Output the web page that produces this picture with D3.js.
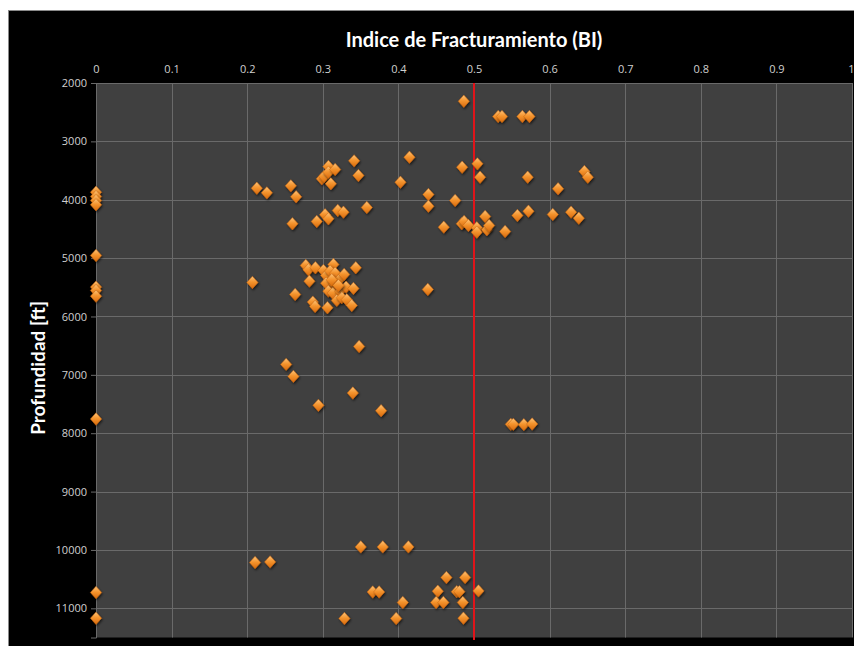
<!DOCTYPE html>
<html><head><meta charset="utf-8">
<script src="https://cdn.jsdelivr.net/npm/d3@7/dist/d3.min.js"></script>
<style>
html,body{margin:0;padding:0;background:#fff;}
svg{display:block;}
</style></head>
<body>
<svg id="c" width="854" height="646"></svg>
<script>
const title = "Indice de Fracturamiento (BI)";
const yTitle = "Profundidad [ft]";
const xTicks = [0,0.1,0.2,0.3,0.4,0.5,0.6,0.7,0.8,0.9,1];
const yTicks = [2000,3000,4000,5000,6000,7000,8000,9000,10000,11000];
const cutoff = 0.5;
const bi = [
 0,0,0,0,0,0,0,0,0,0,0,
 0.2127,0.226,0.2577,0.2647,0.2598,0.292,0.303,0.3074,0.2987,0.3017,0.3074,0.3074,0.3163,0.3106,0.3414,0.3471,0.3198,0.3273,0.3582,
 0.4865,0.532,0.537,0.564,0.5733,0.4146,0.4843,0.5045,0.508,0.571,0.4027,0.646,0.6505,0.6112,0.4397,0.4397,0.475,
 0.46,0.4838,0.4869,0.4926,0.5037,0.5037,0.5147,0.517,0.52,0.5411,0.5574,0.572,0.6042,0.6284,0.6386,
 0.2069,0.2634,0.2775,0.281,0.2902,0.2823,0.2868,0.2898,0.3008,0.3061,0.314,0.3044,0.3436,0.348,
 0.3097,0.3163,0.3229,0.3282,0.3044,0.315,0.3074,0.3132,0.3229,0.3308,0.3405,0.3185,0.3251,0.3317,0.3383,0.3118,0.3206,0.4389,
 0.2515,0.2611,0.2942,0.3397,0.3771,0.5487,0.552,0.5659,0.5769,
 0.2104,0.2303,0.3502,0.3793,0.4132,0.366,0.3745,0.4058,0.3286,0.397,0.4635,0.4882,0.4521,0.4772,0.4807,0.5059,0.4499,0.4595,0.4852,0.486
];
const depth = [
 3871,3945,4013,4087,4955,5497,5554,5652,7757,10730,11169,
 3803,3882,3762,3950,4412,4373,4258,4327,3642,3602,3431,3529,3483,3727,3334,3585,4185,4213,4133,
 2313,2575,2575,2575,2575,3272,3443,3385,3614,3614,3700,3517,3614,3813,3911,4111,4013,
 4470,4412,4373,4441,4481,4556,4287,4515,4441,4544,4270,4196,4253,4213,4316,
 5417,5623,5126,5200,5166,5395,5754,5828,5212,5850,5109,5297,5166,6514,
 5223,5258,5354,5280,5429,5451,5566,5600,5566,5497,5520,5725,5679,5713,5811,5371,5469,5537,
 6821,7027,7523,7312,7614,7848,7848,7853,7843,
 10216,10205,9948,9948,9948,10720,10720,10900,11175,11175,10473,10473,10707,10715,10715,10702,10900,10900,10900,11169
];

const svg = d3.select("#c");
const W = 854, H = 646;
const m = {left:96, right:2, top:83, bottom:8.5};
const x = d3.scaleLinear().domain([0,1]).range([m.left, W - m.right]);
const y = d3.scaleLinear().domain([2000,11500]).range([m.top, H - m.bottom]);

const defs = svg.append("defs");
const g = defs.append("linearGradient").attr("id","dg").attr("x1","0").attr("y1","0").attr("x2","0").attr("y2","1");
g.append("stop").attr("offset","0%").attr("stop-color","#fcc47a");
g.append("stop").attr("offset","45%").attr("stop-color","#f5952f");
g.append("stop").attr("offset","100%").attr("stop-color","#d86a0c");
const f = defs.append("filter").attr("id","sh").attr("x","-50%").attr("y","-50%").attr("width","200%").attr("height","200%");
f.append("feDropShadow").attr("dx",1).attr("dy",1.5).attr("stdDeviation",1).attr("flood-color","#000").attr("flood-opacity",0.6);

// outer frame
svg.append("rect").attr("x",8.5).attr("y",10.5).attr("width",W).attr("height",H)
  .attr("fill","#000").attr("stroke","#8a8a8a").attr("stroke-width",1);

// plot background
svg.append("rect").attr("x",x(0)).attr("y",y(2000)).attr("width",x(1)-x(0)).attr("height",y(11500)-y(2000))
  .attr("fill","#404040");

// grid
svg.append("g").selectAll("line.v").data(xTicks.slice(1)).join("line")
  .attr("x1",d=>Math.round(x(d))+0.5).attr("x2",d=>Math.round(x(d))+0.5)
  .attr("y1",y(2000)).attr("y2",y(11500)).attr("stroke","#6a6a6a").attr("stroke-width",1);
svg.append("g").selectAll("line.h").data(yTicks).join("line")
  .attr("x1",x(0)).attr("x2",x(1))
  .attr("y1",d=>Math.round(y(d))+0.5).attr("y2",d=>Math.round(y(d))+0.5).attr("stroke","#6a6a6a").attr("stroke-width",1);

// axes
const xAxis = d3.axisTop(x).tickValues(xTicks).tickFormat(d=>d3.format("")(d)).tickSize(0).tickPadding(10);
const gx = svg.append("g").attr("transform",`translate(0,${y(2000)})`).call(xAxis);
gx.select(".domain").remove();
gx.selectAll("text").attr("fill","#d0d0d0").attr("font-family","'Liberation Sans Narrow','Open Sans',sans-serif").attr("font-size",11);
gx.selectAll(".tick").filter(d=>d===1).select("text").attr("text-anchor","end").attr("dx",2);

const yAxis = d3.axisLeft(y).tickValues(yTicks).tickFormat(d=>d).tickSize(5).tickPadding(4);
const gy = svg.append("g").attr("transform",`translate(${x(0)},0)`).call(yAxis);
gy.select(".domain").attr("stroke","#6a6a6a");
gy.selectAll(".tick line").attr("stroke","#6a6a6a");
gy.selectAll("text").attr("fill","#d0d0d0").attr("font-family","'Liberation Sans Narrow','Open Sans',sans-serif").attr("font-size",11);

// cutoff line
svg.append("line").attr("x1",x(cutoff)).attr("x2",x(cutoff)).attr("y1",y(2000)).attr("y2",H-6)
  .attr("stroke","#e0141a").attr("stroke-width",2);

// markers
const pts = bi.map((v,i)=>({v, d:depth[i]}));
svg.append("g").selectAll("path").data(pts).join("path")
  .attr("transform",d=>`translate(${x(d.v)},${y(d.d)})`)
  .attr("d","M0,-6.2L5.6,0L0,6.2L-5.6,0Z")
  .attr("fill","url(#dg)").attr("stroke","#c9650e").attr("stroke-width",0.5)
  .attr("filter","url(#sh)");

// titles
svg.append("text").attr("x",474).attr("y",47).attr("text-anchor","middle")
  .attr("fill","#fff").attr("font-family","Lato,'Open Sans',sans-serif").attr("font-weight","bold").attr("font-size",20)
  .text(title);
svg.append("text").attr("transform","translate(45,368) rotate(-90)").attr("text-anchor","middle")
  .attr("fill","#fff").attr("font-family","Lato,'Open Sans',sans-serif").attr("font-weight","bold").attr("font-size",19)
  .text(yTitle);
</script>
</body></html>
